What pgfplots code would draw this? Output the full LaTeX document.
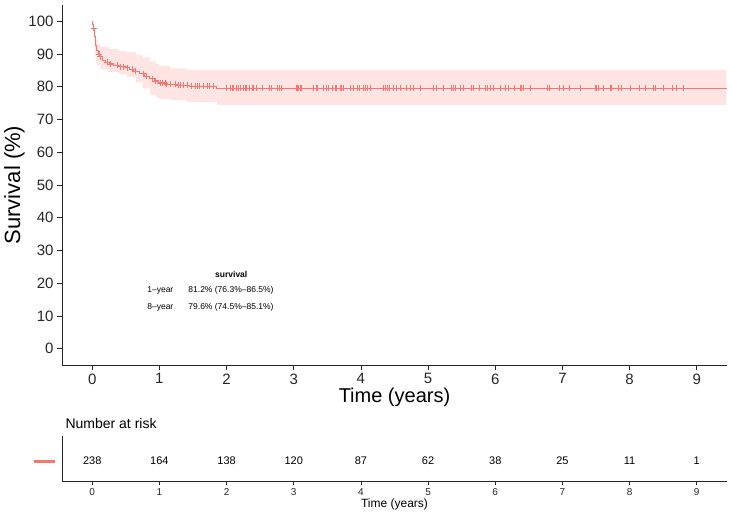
\documentclass[border=0pt]{standalone}
\usepackage{fontspec}
\setmainfont{Liberation Sans}
\usepackage{pgfplots}
\pgfplotsset{compat=1.18}
\usepgfplotslibrary{fillbetween}
\definecolor{kmred}{HTML}{F8766D}

\pgfplotstableread{
t S
0 100
0.01 99.2
0.02 97.9
0.03 95.5
0.045 92.5
0.07 91.2
0.10 90.0
0.12 89.2
0.15 88.2
0.19 87.5
0.25 87.0
0.32 86.6
0.40 86.2
0.48 85.8
0.55 85.3
0.62 84.7
0.70 84.0
0.78 83.2
0.85 82.5
0.92 81.8
0.98 81.2
1.10 80.8
1.25 80.5
1.45 80.2
1.85 79.6
9.45 79.6
}\kmcurve

\pgfplotstableread{
t S
0 100
0.03 97.0
0.05 94.5
0.08 93.0
0.12 92.2
0.25 91.5
0.40 91.0
0.52 90.6
0.65 89.8
0.75 89.0
0.86 87.8
0.95 87.0
1.00 86.5
1.16 85.6
1.40 85.2
1.86 85.1
9.44 85.1
}\kmupper

\pgfplotstableread{
t S
0 100
0.02 95.0
0.04 89.0
0.07 86.5
0.12 85.3
0.25 84.5
0.40 83.8
0.52 83.0
0.65 81.5
0.75 79.5
0.86 77.5
0.95 76.8
1.00 76.3
1.16 75.9
1.40 75.3
1.86 74.5
9.44 74.5
}\kmlower

\pgfplotstableread{
t S
0.02 97.9
0.10 90.0
0.12 89.2
0.22 87.5
0.27 87.0
0.37 86.6
0.42 86.2
0.47 86.2
0.52 85.8
0.59 85.3
0.64 84.7
0.76 84.0
0.81 83.2
0.89 82.5
0.94 81.8
1.01 81.2
1.04 81.2
1.09 81.2
1.11 80.8
1.16 80.8
1.24 80.8
1.28 80.5
1.31 80.5
1.36 80.5
1.41 80.5
1.48 80.2
1.53 80.2
1.56 80.2
1.60 80.2
1.66 80.2
1.71 80.2
1.75 80.2
1.81 80.2
2.00 79.6
2.05 79.6
2.09 79.6
2.10 79.6
2.14 79.6
2.18 79.6
2.21 79.6
2.25 79.6
2.28 79.6
2.30 79.6
2.34 79.6
2.38 79.6
2.40 79.6
2.45 79.6
2.54 79.6
2.64 79.6
2.67 79.6
2.75 79.6
2.79 79.6
2.82 79.6
3.04 79.6
3.06 79.6
3.07 79.6
3.10 79.6
3.12 79.6
3.29 79.6
3.33 79.6
3.35 79.6
3.44 79.6
3.49 79.6
3.52 79.6
3.57 79.6
3.62 79.6
3.64 79.6
3.69 79.6
3.71 79.6
3.74 79.6
3.84 79.6
3.88 79.6
3.94 79.6
3.98 79.6
4.04 79.6
4.07 79.6
4.09 79.6
4.14 79.6
4.33 79.6
4.36 79.6
4.39 79.6
4.43 79.6
4.48 79.6
4.53 79.6
4.58 79.6
4.68 79.6
4.73 79.6
4.78 79.6
4.88 79.6
5.08 79.6
5.13 79.6
5.23 79.6
5.35 79.6
5.38 79.6
5.40 79.6
5.48 79.6
5.52 79.6
5.65 79.6
5.67 79.6
5.77 79.6
5.85 79.6
5.86 79.6
5.88 79.6
5.92 79.6
5.97 79.6
6.07 79.6
6.15 79.6
6.20 79.6
6.29 79.6
6.37 79.6
6.39 79.6
6.42 79.6
6.52 79.6
6.77 79.6
6.81 79.6
6.96 79.6
7.01 79.6
7.11 79.6
7.26 79.6
7.49 79.6
7.51 79.6
7.53 79.6
7.61 79.6
7.71 79.6
7.73 79.6
7.83 79.6
7.88 79.6
8.01 79.6
8.15 79.6
8.23 79.6
8.35 79.6
8.38 79.6
8.50 79.6
8.63 79.6
8.70 79.6
8.80 79.6
}\kmcensor

\pgfplotstableread{
t y n
0 0.44 238
1 0.44 164
2 0.44 138
3 0.44 120
4 0.44 87
5 0.44 62
6 0.44 38
7 0.44 25
8 0.44 11
9 0.44 1
}\risktable

\begin{document}
\begin{tikzpicture}
\begin{axis}[
  at={(0pt,0pt)}, anchor=south west,
  scale only axis, width=665pt, height=360pt,
  xmin=-0.45, xmax=9.45, ymin=-5, ymax=105,
  axis lines=left, axis line style={-, line width=0.9pt, black!85},
  xtick={0,...,9}, ytick={0,10,...,100},
  tick align=outside, major tick length=5pt,
  tick style={line width=0.8pt, black!85},
  /pgf/number format/assume math mode=true,
  ticklabel style={font=\fontsize{15}{18}\selectfont, text=black!85},
  xlabel={Time (years)}, ylabel={Survival (\%)},
  every axis x label/.style={at={(axis description cs:0.5,-0.09)}, anchor=center, font=\fontsize{20}{24}\selectfont},
  every axis y label/.style={at={(axis description cs:-0.0715,0.5)}, anchor=center, rotate=90, font=\fontsize{22}{26}\selectfont},
  clip=false,
]
\addplot[const plot, draw=none, name path=up, forget plot] table[x=t, y=S] {\kmupper};
\addplot[const plot, draw=none, name path=lo, forget plot] table[x=t, y=S] {\kmlower};
\addplot[fill=kmred, fill opacity=0.2, draw=none, forget plot] fill between[of=up and lo];
\addplot[const plot, color=kmred, line width=0.9pt, forget plot] table[x=t, y=S] {\kmcurve};
\addplot[only marks, mark=+, mark size=3pt, color=kmred, mark options={line width=0.7pt}, forget plot] table[x=t, y=S] {\kmcensor};
\node[font=\bfseries\fontsize{8.5}{10}\selectfont, anchor=center] at (axis cs:2.07,22.6) {survival};
\node[font=\fontsize{8.5}{10}\selectfont, anchor=east] at (axis cs:1.26,17.7) {1–year};
\node[font=\fontsize{8.5}{10}\selectfont, anchor=west] at (axis cs:1.38,17.7) {81.2\% (76.3\%–86.5\%)};
\node[font=\fontsize{8.5}{10}\selectfont, anchor=east] at (axis cs:1.26,12.5) {8–year};
\node[font=\fontsize{8.5}{10}\selectfont, anchor=west] at (axis cs:1.38,12.5) {79.6\% (74.5\%–85.1\%)};
\end{axis}

\begin{axis}[
  at={(0pt,-116pt)}, anchor=south west,
  scale only axis, width=665pt, height=45pt,
  xmin=-0.45, xmax=9.45, ymin=0, ymax=1,
  axis lines=left, axis line style={-, line width=0.9pt, black!85},
  xtick={0,...,9}, ytick=\empty,
  tick align=outside, major tick length=4pt,
  tick style={line width=0.8pt, black!85},
  /pgf/number format/assume math mode=true,
  ticklabel style={font=\fontsize{10}{12}\selectfont, text=black!85},
  xlabel={Time (years)},
  every axis x label/.style={at={(axis description cs:0.5,-0.51)}, anchor=center, font=\fontsize{12}{14}\selectfont},
  clip=false,
]
\addplot[draw=none, mark=none, nodes near coords, point meta=explicit symbolic,
  every node near coord/.append style={anchor=center, font=\fontsize{11}{13}\selectfont, text=black}]
  table[x=t, y=y, meta=n] {\risktable};
\addplot[color=kmred, line width=3pt] coordinates {(-0.86,0.44) (-0.55,0.44)};
\node[anchor=west, font=\fontsize{14}{16}\selectfont] at (axis description cs:0,1.27) {Number at risk};
\end{axis}
\pgfresetboundingbox
\useasboundingbox (-62pt,-152pt) rectangle (670pt,365pt);
\end{tikzpicture}
\end{document}
